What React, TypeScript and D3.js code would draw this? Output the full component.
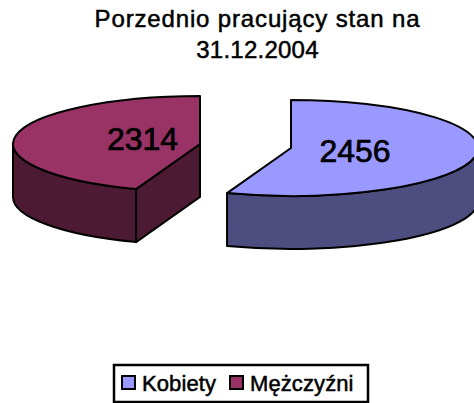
import React from "react";
import * as d3 from "d3";

const width = 474,
  height = 403;

const categories = ["Kobiety", "Mężczyźni"];
const values = [2456, 2314];
// sweep of each slice (degrees), it is not quite proportional to values
const sweepDegrees = [200, 160];
const topColors = ["#9999FF", "#993366"];
const sideColors = ["#4D4D80", "#4D1A33"];
const titleLines = ["Porzednio pracujący stan na", "31.12.2004"];
const titleSpacing = [0.85, 0.25];

const rx = 187,
  ry = 48,
  depth = 53;
// each slice is pulled apart, so it has its own centre
const centers = [
  { x: 291, y: 148 },
  { x: 200, y: 144 },
];
const labelPos = [
  { x: 355, y: 162 },
  { x: 142.5, y: 150 },
];

const pie = d3
  .pie<number>()
  .sort(null)
  .value((d) => d);
const slices = pie(sweepDegrees);

// angle is clockwise from 12 o'clock, like d3.arc
const pt = (c: { x: number; y: number }, a: number, dy = 0) => [
  c.x + rx * Math.sin(a),
  c.y - ry * Math.cos(a) + dy,
];

function topPath(c: { x: number; y: number }, a0: number, a1: number) {
  const p0 = pt(c, a0);
  const p1 = pt(c, a1);
  const large = a1 - a0 > Math.PI ? 1 : 0;
  return `M${c.x},${c.y}L${p0[0]},${p0[1]}A${rx},${ry} 0 ${large} 1 ${p1[0]},${p1[1]}Z`;
}

// outer wall: only the part of the rim on the front half of the ellipse
function wallPath(c: { x: number; y: number }, a0: number, a1: number) {
  const from = Math.max(a0, Math.PI / 2);
  const to = Math.min(a1, (3 * Math.PI) / 2);
  if (to <= from) return null;
  const p0 = pt(c, from);
  const p1 = pt(c, to);
  const q0 = pt(c, from, depth);
  const q1 = pt(c, to, depth);
  return `M${p0[0]},${p0[1]}A${rx},${ry} 0 0 1 ${p1[0]},${p1[1]}L${q1[0]},${q1[1]}A${rx},${ry} 0 0 0 ${q0[0]},${q0[1]}Z`;
}

// cut face that can be seen, running from the rim to the centre
function cutPath(c: { x: number; y: number }, a: number) {
  const p = pt(c, a);
  return `M${p[0]},${p[1]}L${c.x},${c.y}L${c.x},${c.y + depth}L${p[0]},${p[1] + depth}Z`;
}

const legendX = d3
  .scaleOrdinal<string, number>()
  .domain(categories)
  .range([122, 230]);

export default function App() {
  return (
    <svg
      width={width}
      height={height}
      style={{ position: "absolute", left: 0, top: 0 }}
      fontFamily="'Liberation Sans', Arial, sans-serif"
    >
      <rect width={width} height={height} fill="#fff" />
      {titleLines.map((t, i) => (
        <text
          key={t}
          x={257.5}
          y={27 + i * 31}
          fontSize={24}
          letterSpacing={titleSpacing[i]}
          textAnchor="middle"
          fill="#000"
          stroke="#000"
          strokeWidth={0.5}
        >
          {t}
        </text>
      ))}

      {slices.map((s, i) => {
        const c = centers[i];
        const wall = wallPath(c, s.startAngle, s.endAngle);
        return (
          <g key={categories[i]} stroke="#000" strokeWidth={2} strokeLinejoin="round">
            {/* the left slice shows the cut at its start, the right one doesn't */}
            {i === 1 && <path d={cutPath(c, s.startAngle)} fill={sideColors[i]} />}
            {wall && <path d={wall} fill={sideColors[i]} />}
            <path d={topPath(c, s.startAngle, s.endAngle)} fill={topColors[i]} />
          </g>
        );
      })}

      {values.map((v, i) => (
        <text
          key={v}
          x={labelPos[i].x}
          y={labelPos[i].y}
          fontSize={32}
          textAnchor="middle"
          fill="#000"
          stroke="#000"
          strokeWidth={0.7}
        >
          {v}
        </text>
      ))}

      <rect x={114} y={365} width={254} height={37} fill="#fff" stroke="#000" strokeWidth={2.5} />
      {categories.map((name, i) => (
        <g key={name}>
          <rect
            x={legendX(name)}
            y={376}
            width={13}
            height={13}
            fill={topColors[i]}
            stroke="#000"
            strokeWidth={2}
          />
          <text
            x={(legendX(name) as number) + 20}
            y={391}
            fontSize={22}
            letterSpacing={0.1}
            fill="#000"
            stroke="#000"
            strokeWidth={0.5}
          >
            {name}
          </text>
        </g>
      ))}
    </svg>
  );
}
